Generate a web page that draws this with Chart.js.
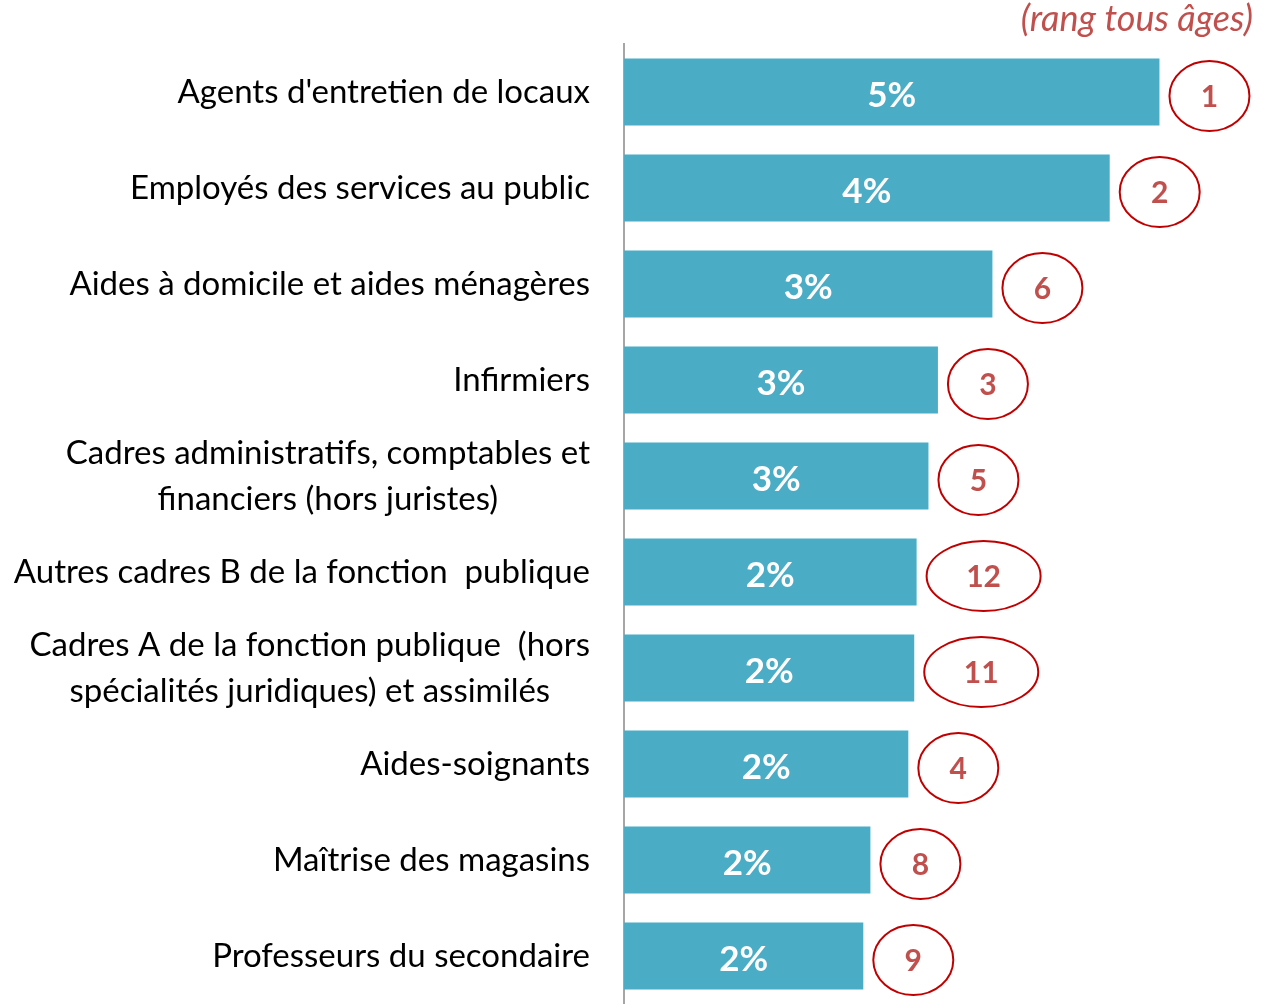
<!DOCTYPE html>
<html>
<head>
<meta charset="utf-8">
<script src="https://cdn.jsdelivr.net/npm/chart.js@4/dist/chart.umd.min.js"></script>
<style>
  html, body { margin: 0; padding: 0; background: #fff; }
  #wrap { width: 1272px; height: 1004px; position: relative; }
</style>
</head>
<body>
<div id="wrap"><canvas id="metiersChart"></canvas></div>
<script>
const categories = [
    ["Agents d'entretien de locaux"],
    ["Employés des services au public"],
    ["Aides à domicile et aides ménagères"],
    ["Infirmiers"],
    ["Cadres administratifs, comptables et", "financiers (hors juristes)"],
    ["Autres cadres B de la fonction  publique"],
    ["Cadres A de la fonction publique  (hors", "spécialités juridiques) et assimilés"],
    ["Aides-soignants"],
    ["Maîtrise des magasins"],
    ["Professeurs du secondaire"]
];
const shares = [4.52, 4.10, 3.11, 2.65, 2.57, 2.47, 2.45, 2.40, 2.08, 2.02];
const ranks = [1, 2, 6, 3, 5, 12, 11, 4, 8, 9];
const rankTitle = '(rang tous âges)';

const FONT = 'Lato, "Open Sans", sans-serif';

const overlay = {
    id: 'overlay',
    afterDraw(chart) {
        const ctx = chart.ctx;
        const meta = chart.getDatasetMeta(0);
        const area = chart.chartArea;
        ctx.save();

        // category labels, right aligned block, lines centred within block
        ctx.fillStyle = '#000';
        ctx.font = '33px ' + FONT;
        ctx.textBaseline = 'middle';
        ctx.textAlign = 'center';
        const rightEdge = area.left - 34;
        const lineH = 46;
        meta.data.forEach(function (bar, i) {
            const lines = categories[i];
            let maxW = 0;
            lines.forEach(function (l) { maxW = Math.max(maxW, ctx.measureText(l).width); });
            const cx = rightEdge - maxW / 2;
            const y0 = bar.y - (lines.length - 1) * lineH / 2;
            lines.forEach(function (l, j) {
                ctx.fillText(l, cx, y0 + j * lineH);
            });
        });

        // value labels inside bars
        ctx.fillStyle = '#fff';
        ctx.font = 'bold 35px ' + FONT;
        meta.data.forEach(function (bar, i) {
            ctx.fillText(Math.round(shares[i]) + '%', (bar.x + bar.base) / 2, bar.y + 4);
        });

        // rank ellipses
        meta.data.forEach(function (bar, i) {
            const txt = String(ranks[i]);
            const rx = txt.length > 1 ? 57 : 40;
            const ry = 35;
            const cx = bar.x + 10 + rx;
            const cy = bar.y + 4;
            ctx.beginPath();
            ctx.ellipse(cx, cy, rx, ry, 0, 0, Math.PI * 2);
            ctx.strokeStyle = '#C00000';
            ctx.lineWidth = 2;
            ctx.stroke();
            ctx.fillStyle = '#C0504D';
            ctx.font = 'bold 30px ' + FONT;
            ctx.fillText(txt, cx, cy + 1);
        });

        // title
        ctx.fillStyle = '#C0504D';
        ctx.font = 'italic 36px ' + FONT;
        ctx.textAlign = 'right';
        ctx.textBaseline = 'alphabetic';
        ctx.fillText(rankTitle, 1253, 31);
        ctx.restore();
    }
};

const metiersCtx = document.getElementById('metiersChart').getContext('2d');
new Chart(metiersCtx, {
    type: 'bar',
    data: {
        labels: categories,
        datasets: [{
            data: shares,
            backgroundColor: '#4BACC6',
            borderWidth: 0,
            barPercentage: 0.7,
            categoryPercentage: 1
        }]
    },
    options: {
        indexAxis: 'y',
        responsive: true,
        maintainAspectRatio: false,
        animation: false,
        layout: { padding: { left: 616, top: 44, right: 0, bottom: 0 } },
        plugins: {
            legend: { display: false },
            tooltip: { enabled: false }
        },
        scales: {
            x: {
                min: 0,
                max: 5.47,
                display: false
            },
            y: {
                ticks: { display: false },
                grid: { display: false },
                border: { display: true, color: '#A6A6A6', width: 2 }
            }
        }
    },
    plugins: [overlay]
});
</script>
</body>
</html>
